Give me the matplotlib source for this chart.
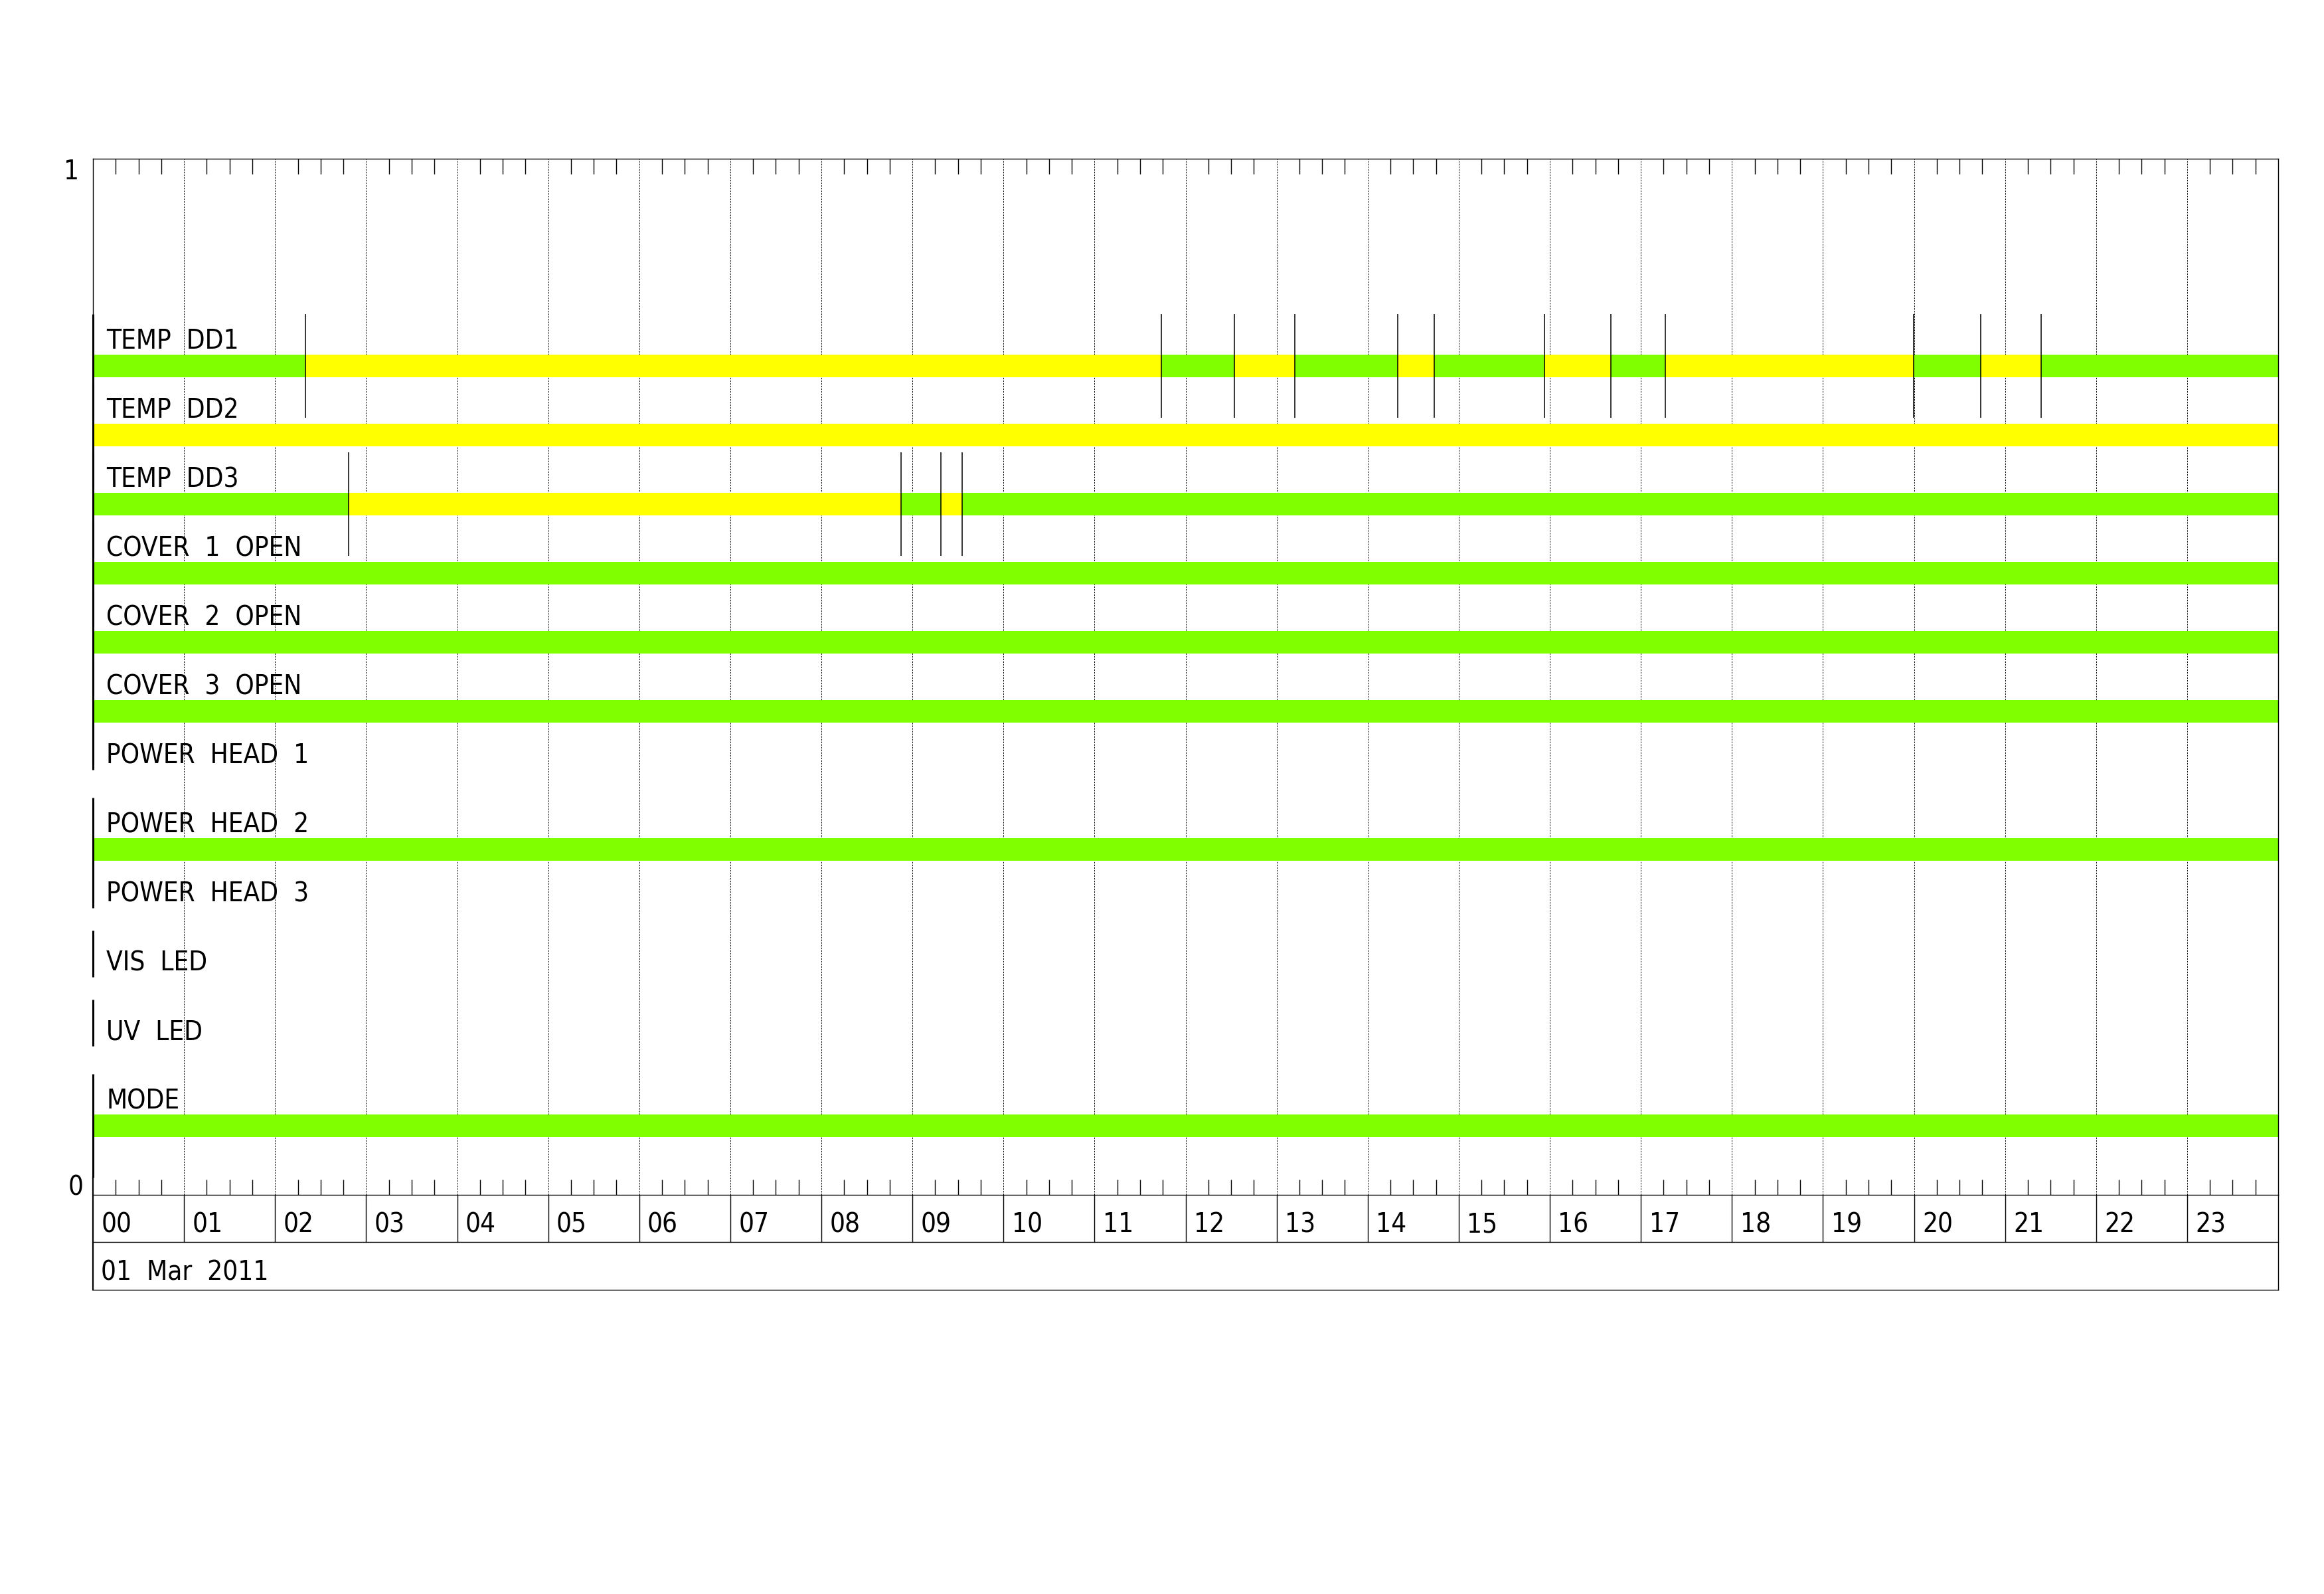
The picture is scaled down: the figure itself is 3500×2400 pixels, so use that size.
import matplotlib
matplotlib.use("Agg")
import matplotlib.pyplot as plt

# ---------------- data ----------------
row_labels = ["TEMP  DD1", "TEMP  DD2", "TEMP  DD3", "COVER  1  OPEN", "COVER  2  OPEN",
              "COVER  3  OPEN", "POWER  HEAD  1", "POWER  HEAD  2", "POWER  HEAD  3",
              "VIS  LED", "UV  LED", "MODE"]

# state change times (hours) and state after each change
temp_dd1_times = [0.0, 2.337, 11.736, 12.539, 13.201, 14.331, 14.733, 15.940, 16.668, 17.266, 19.996, 20.730, 21.397]
temp_dd1_states = ["ok", "warn", "ok", "warn", "ok", "warn", "ok", "warn", "ok", "warn", "ok", "warn", "ok"]
temp_dd2_times = [0.0]
temp_dd2_states = ["warn"]
temp_dd3_times = [0.0, 2.81, 8.877, 9.315, 9.544]
temp_dd3_states = ["ok", "warn", "ok", "warn", "ok"]
cover1_times, cover1_states = [0.0], ["ok"]
cover2_times, cover2_states = [0.0], ["ok"]
cover3_times, cover3_states = [0.0], ["ok"]
power1_times, power1_states = [], []
power2_times, power2_states = [0.0], ["ok"]
power3_times, power3_states = [], []
vis_times, vis_states = [], []
uv_times, uv_states = [], []
mode_times, mode_states = [0.0], ["ok"]

end_time = 24.0
hour_labels = ["%02d" % h for h in range(24)]
date_label = "01  Mar  2011"

rows = [
    (temp_dd1_times, temp_dd1_states), (temp_dd2_times, temp_dd2_states),
    (temp_dd3_times, temp_dd3_states), (cover1_times, cover1_states),
    (cover2_times, cover2_states), (cover3_times, cover3_states),
    (power1_times, power1_states), (power2_times, power2_states),
    (power3_times, power3_states), (vis_times, vis_states),
    (uv_times, uv_states), (mode_times, mode_states),
]

state_colors = {"ok": "#80ff00", "warn": "#ffff00"}

# ---------------- style ----------------
plt.rcParams["lines.scale_dashes"] = False
FONT = dict(family=["DejaVu Sans"], fontstretch="condensed")
FS = 29

fig = plt.figure(figsize=(35, 24), dpi=100)
ax = fig.add_axes([0.04, 0.2504, 0.9403, 0.65])
ax.set_xlim(0, end_time)
ax.set_ylim(0, 1)

for s in ["top", "right", "bottom"]:
    ax.spines[s].set_linewidth(1.0)
ax.spines["left"].set_visible(False)

# quarter-hour ticks top & bottom, hour grid lines dashed
quarters = [h + q for h in range(24) for q in (0.25, 0.5, 0.75)]
ax.set_xticks(quarters)
ax.set_yticks([])
ax.tick_params(axis="x", direction="in", top=True, bottom=True, length=16.5,
               width=1.0, labelbottom=False, labeltop=False)
for h in range(1, 24):
    ax.axvline(h, color="black", lw=0.7, ls=(0, (1.6, 1.3)), zorder=0.5)

n = len(rows)
bar_h = 0.0215
for i, ((times, states), label) in enumerate(zip(rows, row_labels)):
    yc = (n - i) / 15.0
    ax.text(0.0061, yc + 0.0165, label, transform=ax.transAxes, fontsize=FS,
            va="baseline", ha="left", **FONT)
    if len(times) == 0:
        ax.plot([0, 0], [yc + 0.01, yc + 0.055], color="black", lw=2.2,
                clip_on=False, solid_capstyle="butt", zorder=3)
        continue
    ends = list(times[1:]) + [end_time]
    for t0, t1, st in zip(times, ends, states):
        ax.barh(yc, t1 - t0, left=t0, height=bar_h, color=state_colors[st],
                linewidth=0, zorder=2)
    for t in times:
        ax.plot([t, t], [yc - 0.05, yc + 0.05], color="black",
                lw=2.2 if t == 0 else 1.1, clip_on=False,
                solid_capstyle="butt", zorder=3)

# left spine pieces outside the rows
ax.plot([0, 0], [0.85, 1.0], color="black", lw=1.0, clip_on=False, zorder=3)
ax.plot([0, 0], [-0.0917, 0.0167], color="black", lw=1.6, clip_on=False, zorder=3)

# y-range labels
ax.text(-0.0062, 1.0, "1", transform=ax.transAxes, fontsize=FS, ha="right",
        va="top", **FONT)
ax.text(-0.0045, 0.0, "0", transform=ax.transAxes, fontsize=FS, ha="right",
        va="baseline", **FONT)

# hour boxes and date box below the axis
y_hr = -71 / 1560
y_dt = -143 / 1560
ax.plot([0, end_time], [y_hr, y_hr], color="black", lw=1.0, clip_on=False)
ax.plot([0, end_time], [y_dt, y_dt], color="black", lw=1.0, clip_on=False)
ax.plot([end_time, end_time], [y_dt, 0], color="black", lw=1.0, clip_on=False)
for h in range(1, 24):
    ax.plot([h, h], [y_hr, 0], color="black", lw=1.0, clip_on=False)
for h, lab in enumerate(hour_labels):
    ax.text(h + 0.09, -56 / 1560, lab, fontsize=FS, ha="left", va="baseline",
            clip_on=False, **FONT)
ax.text(0.09, -128 / 1560, date_label, fontsize=FS, ha="left", va="baseline",
        clip_on=False, **FONT)

fig.savefig("out.png", dpi=100, facecolor="white")
